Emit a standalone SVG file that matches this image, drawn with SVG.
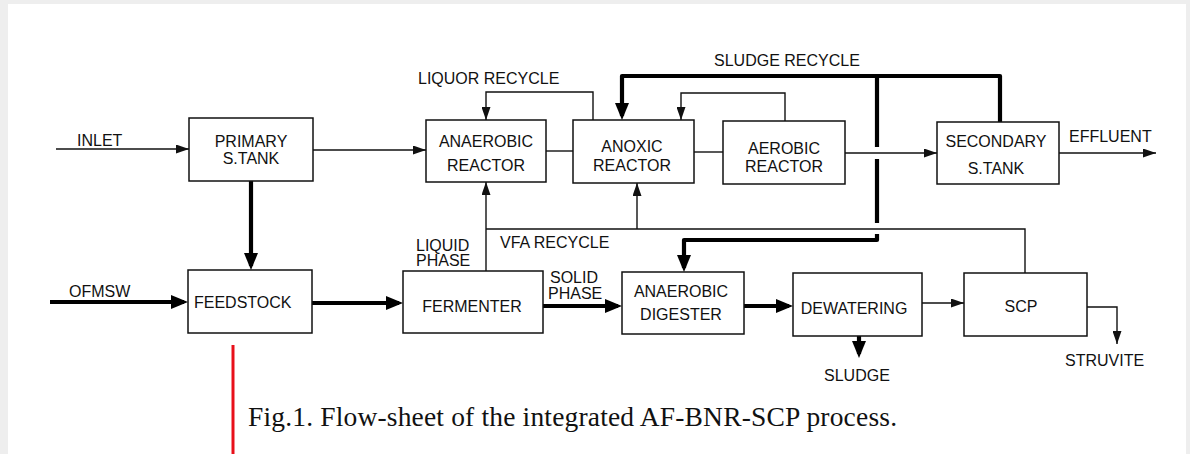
<svg xmlns="http://www.w3.org/2000/svg" width="1190" height="454" viewBox="0 0 1190 454">
<style>
.box{fill:#fff;stroke:#111;stroke-width:1.5}
.t{font-family:"Liberation Sans",Arial,sans-serif;font-size:16px;fill:#111}
.c{text-anchor:middle}
.thin{fill:none;stroke:#111;stroke-width:1.4}
.thick{fill:none;stroke:#000;stroke-width:4.2;stroke-linejoin:round}
.cap{font-family:"Liberation Serif","Times New Roman",serif;font-size:27.5px;fill:#111}
</style>
<defs>
<marker id="ah" viewBox="0 0 13 9" markerWidth="13" markerHeight="9" refX="13" refY="4.5" orient="auto" markerUnits="userSpaceOnUse"><path d="M0,0 L13,4.5 L0,9 z" fill="#111"/></marker>
<marker id="ahk" viewBox="0 0 17 14" markerWidth="17" markerHeight="14" refX="13" refY="7" orient="auto" markerUnits="userSpaceOnUse"><path d="M0,0 L17,7 L0,14 z" fill="#000"/></marker>
</defs>
<rect x="0" y="0" width="1190" height="454" fill="#eeeeee"/>
<rect x="8" y="4" width="1178" height="450" fill="#ffffff"/>

<g id="connectors">
<path class="thin" d="M56,149 H189" marker-end="url(#ah)"/>
<path class="thin" d="M313,150 H426" marker-end="url(#ah)"/>
<path class="thin" d="M546,151 H573"/>
<path class="thin" d="M694,152 H723"/>
<path class="thin" d="M845,153 H937" marker-end="url(#ah)"/>
<path class="thin" d="M1059,153 H1156" marker-end="url(#ah)"/>
<path class="thin" d="M593,120 V92 H486 V120" marker-end="url(#ah)"/>
<path class="thin" d="M785,121 V93 H681 V120" marker-end="url(#ah)"/>
<path class="thin" d="M486,271 V182" marker-end="url(#ah)"/>
<path class="thin" d="M1025,273 V229 H486"/>
<path class="thin" d="M637,229 V183" marker-end="url(#ah)"/>
<path class="thin" d="M922,303 H964" marker-end="url(#ah)"/>
<path class="thin" d="M1087,307 H1117 V344" marker-end="url(#ah)"/>
<path class="thick" d="M50,302 H184" marker-end="url(#ahk)"/>
<path class="thick" d="M251,181 V266" marker-end="url(#ahk)"/>
<path class="thick" d="M312,303 H399" marker-end="url(#ahk)"/>
<path class="thick" d="M543,306 H618" marker-end="url(#ahk)"/>
<path class="thick" d="M744,306 H789" marker-end="url(#ahk)"/>
<path class="thick" d="M859,336 V354" marker-end="url(#ahk)"/>
<path class="thick" d="M1000,122 V76 H622 V116" marker-end="url(#ahk)"/>
<path class="thick" d="M877,76 V147"/>
<path class="thick" d="M877,159 V223"/>
<path class="thick" d="M877,234 V240 H684 V268" marker-end="url(#ahk)"/>
</g>

<g id="primary"><rect class="box" x="189" y="118" width="124" height="63"/><text class="t c" x="251" y="146.5">PRIMARY</text><text class="t c" x="251" y="164">S.TANK</text></g>
<g id="feedstock"><rect class="box" x="188" y="270" width="124" height="63"/><text class="t" x="194" y="307.5">FEEDSTOCK</text></g>
<g id="anaerobic-reactor"><rect class="box" x="426" y="120" width="120" height="62"/><text class="t c" x="486" y="147">ANAEROBIC</text><text class="t c" x="486" y="170.5">REACTOR</text></g>
<g id="anoxic-reactor"><rect class="box" x="573" y="120" width="121" height="63"/><text class="t c" x="632" y="151.5">ANOXIC</text><text class="t c" x="632" y="171">REACTOR</text></g>
<g id="aerobic-reactor"><rect class="box" x="723" y="121" width="122" height="63"/><text class="t c" x="784" y="154">AEROBIC</text><text class="t c" x="784" y="172">REACTOR</text></g>
<g id="secondary"><rect class="box" x="937" y="122" width="122" height="62"/><text class="t c" x="996" y="147">SECONDARY</text><text class="t c" x="996" y="174">S.TANK</text></g>
<g id="fermenter"><rect class="box" x="403" y="271" width="140" height="62"/><text class="t c" x="472" y="312">FERMENTER</text></g>
<g id="digester"><rect class="box" x="622" y="272" width="122" height="62"/><text class="t c" x="681" y="296.5">ANAEROBIC</text><text class="t c" x="681" y="320">DIGESTER</text></g>
<g id="dewatering"><rect class="box" x="793" y="273" width="129" height="63"/><text class="t c" x="854" y="314">DEWATERING</text></g>
<g id="scp"><rect class="box" x="964" y="273" width="123" height="63"/><text class="t c" x="1021" y="312">SCP</text></g>

<g id="labels">
<text class="t" x="77" y="146">INLET</text>
<text class="t" x="69" y="296.5">OFMSW</text>
<text class="t" x="418" y="84">LIQUOR RECYCLE</text>
<text class="t" x="714" y="66">SLUDGE RECYCLE</text>
<text class="t" x="1069" y="142">EFFLUENT</text>
<text class="t" x="416" y="250.5">LIQUID</text>
<text class="t" x="416" y="266">PHASE</text>
<text class="t" x="500" y="248">VFA RECYCLE</text>
<text class="t" x="550" y="282.5">SOLID</text>
<text class="t" x="548" y="299">PHASE</text>
<text class="t" x="824" y="380.5">SLUDGE</text>
<text class="t" x="1065" y="365.5">STRUVITE</text>
</g>

<line x1="233" y1="345" x2="233" y2="454" stroke="#e8101a" stroke-width="3"/>
<text class="cap" x="248" y="426" textLength="649" lengthAdjust="spacing">Fig.1. Flow-sheet of the integrated AF-BNR-SCP process.</text>
</svg>
